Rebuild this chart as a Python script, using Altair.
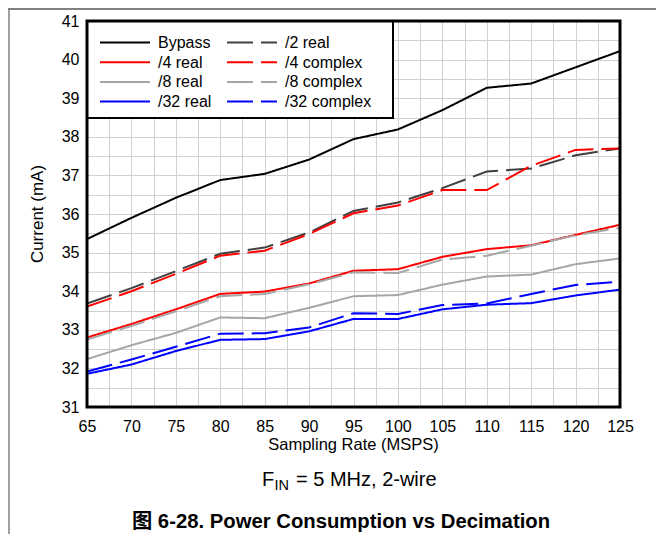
import altair as alt
import pandas as pd

# ---------------- data ----------------
rates = [65, 70, 75, 80, 85, 90, 95, 100, 105, 110, 115, 120, 125]
series_names = ["Bypass", "/2 real", "/4 real", "/4 complex",
                "/8 real", "/8 complex", "/32 real", "/32 complex"]
bypass = [35.35, 35.90, 36.42, 36.88, 37.04, 37.41, 37.94, 38.19, 38.69, 39.27, 39.38, 39.80, 40.22]
real_2 = [33.68, 34.08, 34.52, 34.97, 35.13, 35.52, 36.08, 36.30, 36.67, 37.10, 37.18, 37.52, 37.70]
real_4 = [32.80, 33.15, 33.53, 33.93, 33.99, 34.20, 34.53, 34.57, 34.89, 35.09, 35.19, 35.46, 35.72]
complex_4 = [33.60, 34.00, 34.45, 34.92, 35.05, 35.48, 36.02, 36.22, 36.62, 36.62, 37.25, 37.66, 37.70]
real_8 = [32.24, 32.60, 32.92, 33.32, 33.30, 33.57, 33.87, 33.90, 34.17, 34.38, 34.43, 34.70, 34.85]
complex_8 = [32.75, 33.10, 33.48, 33.87, 33.93, 34.18, 34.49, 34.47, 34.82, 34.92, 35.18, 35.45, 35.64]
real_32 = [31.86, 32.10, 32.45, 32.74, 32.76, 32.96, 33.28, 33.28, 33.53, 33.65, 33.69, 33.89, 34.04]
complex_32 = [31.92, 32.23, 32.56, 32.90, 32.91, 33.06, 33.43, 33.41, 33.64, 33.68, 33.93, 34.16, 34.25]

x_grid = [65 + 2.5 * i for i in range(25)]
y_grid = [31 + 0.5 * i for i in range(21)]

series_values = [bypass, real_2, real_4, complex_4, real_8, complex_8, real_32, complex_32]

# ---------------- styles ----------------
colors = ["#000000", "#404040", "#ff0000", "#ff0000", "#a6a6a6", "#a6a6a6", "#0000ff", "#0000ff"]
SOLID = [1, 0]
DASH = [26, 8]
dashes = [SOLID, DASH, SOLID, DASH, SOLID, DASH, SOLID, DASH]
FONT = "'Liberation Sans', Arial, 'Noto Sans CJK SC', sans-serif"

W, H = 533, 386

rows = []
for name, vals in zip(series_names, series_values):
    for r, v in zip(rates, vals):
        rows.append({"rate": r, "current": v, "series": name})
df = pd.DataFrame(rows)

x_axis = alt.Axis(values=x_grid, title=None, ticks=False, tickSize=0, domain=False,
                  labelExpr="datum.value % 5 === 0 ? format(datum.value, 'd') : ''",
                  labelFont=FONT, labelFontSize=16, labelColor="#000000", labelPadding=11.5,
                  labelFlush=False, labelOverlap=False,
                  grid=True, gridColor="#d0d0d0", gridWidth=1)
y_axis = alt.Axis(values=y_grid, title=None, ticks=False, tickSize=0, domain=False,
                  labelExpr="datum.value % 1 === 0 ? format(datum.value, 'd') : ''",
                  labelFont=FONT, labelFontSize=16, labelColor="#000000", labelPadding=8,
                  labelFlush=False, labelOverlap=False,
                  grid=True, gridColor="#d0d0d0", gridWidth=1)

lines = alt.Chart(df).mark_line(strokeWidth=2, clip=True).encode(
    x=alt.X("rate:Q", scale=alt.Scale(domain=[65, 125], nice=False, zero=False), axis=x_axis),
    y=alt.Y("current:Q", scale=alt.Scale(domain=[31, 41], nice=False, zero=False), axis=y_axis),
    color=alt.Color("series:N", scale=alt.Scale(domain=series_names, range=colors), legend=None),
    strokeDash=alt.StrokeDash("series:N", scale=alt.Scale(domain=series_names, range=dashes), legend=None),
    detail="series:N",
)

one = pd.DataFrame({"k": [0]})

layers = [lines]

# legend box
layers.append(alt.Chart(one).mark_rect(fill="white", stroke="black", strokeWidth=2).encode(
    x=alt.value(0), x2=alt.value(306), y=alt.value(0), y2=alt.value(97)))

# legend entries
for i, name in enumerate(series_names):
    col, row = i % 2, i // 2
    ly = 21.5 + 19.7 * row
    x0 = 13 if col == 0 else 140
    tx = 71 if col == 0 else 198
    layers.append(alt.Chart(one).mark_rule(strokeWidth=2).encode(
        x=alt.value(x0), x2=alt.value(x0 + 50), y=alt.value(ly),
        color=alt.value(colors[i]), strokeDash=alt.value(dashes[i])))
    layers.append(alt.Chart(one).mark_text(align="left", baseline="middle", font=FONT,
                                           fontSize=16, color="black", text=name).encode(
        x=alt.value(tx), y=alt.value(ly + 0.5)))

# plot border on top
layers.append(alt.Chart(one).mark_rect(filled=False, stroke="black", strokeWidth=3).encode(
    x=alt.value(0), x2=alt.value(W), y=alt.value(0), y2=alt.value(H)))

# axis titles and captions
layers.append(alt.Chart(one).mark_text(align="center", baseline="alphabetic", font=FONT,
                                       fontSize=16.5, color="black", text="Sampling Rate (MSPS)").encode(
    x=alt.value(266.5), y=alt.value(429)))
layers.append(alt.Chart(one).mark_text(align="center", baseline="alphabetic", font=FONT, angle=270,
                                       fontSize=17, color="black", text="Current (mA)").encode(
    x=alt.value(-44.5), y=alt.value(193)))
layers.append(alt.Chart(one).mark_text(align="left", baseline="alphabetic", font=FONT,
                                       fontSize=20, color="black", text="F").encode(
    x=alt.value(175), y=alt.value(465)))
layers.append(alt.Chart(one).mark_text(align="left", baseline="alphabetic", font=FONT,
                                       fontSize=14.5, color="black", text="IN").encode(
    x=alt.value(187.5), y=alt.value(469)))
layers.append(alt.Chart(one).mark_text(align="left", baseline="alphabetic", font=FONT,
                                       fontSize=20, color="black", text="= 5 MHz, 2-wire").encode(
    x=alt.value(209), y=alt.value(465)))
layers.append(alt.Chart(one).mark_text(align="center", baseline="alphabetic", font=FONT,
                                       fontSize=20.3, fontWeight="bold", color="black",
                                       text="图 6-28. Power Consumption vs Decimation").encode(
    x=alt.value(254), y=alt.value(507)))

# page frame lines (gray)
layers.append(alt.Chart(one).mark_rule(stroke="#808080", strokeWidth=2).encode(
    x=alt.value(-79), x2=alt.value(569), y=alt.value(-12)))
layers.append(alt.Chart(one).mark_rule(stroke="#808080", strokeWidth=1.5).encode(
    x=alt.value(-78), y=alt.value(-12), y2=alt.value(513)))

chart = alt.layer(*layers).properties(
    width=W, height=H,
    padding={"left": 79, "top": 13, "right": 36, "bottom": 127},
    autosize=alt.AutoSizeParams(type="none"),
    background="white",
).configure_view(stroke=None)

chart.save("out.html", embed_options={"renderer": "svg", "actions": False})
